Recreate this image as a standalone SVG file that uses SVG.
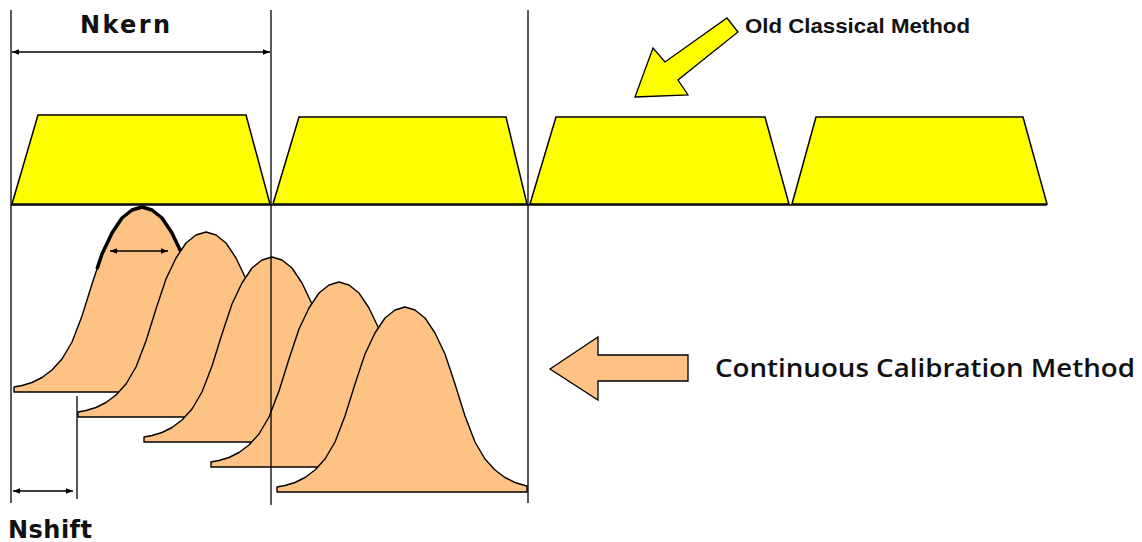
<svg xmlns="http://www.w3.org/2000/svg" width="1142" height="542" viewBox="0 0 1142 542">
<style>
.trap{fill:#FFFF00;stroke:#000;stroke-width:1.5;stroke-linejoin:miter}
.bell{fill:#FFC285;stroke:#000;stroke-width:1.4;stroke-linejoin:round}
.guide{stroke:#000;stroke-width:1.3;fill:none}
.dim{stroke:#000;stroke-width:1.5;fill:none;marker-start:url(#ah);marker-end:url(#ah)}
.lbl{font-family:"DejaVu Sans","Liberation Sans",sans-serif;font-weight:bold;fill:#111}
</style>
<defs>
<marker id="ah" viewBox="0 0 10 10" refX="10" refY="5" markerWidth="7" markerHeight="7" markerUnits="userSpaceOnUse" orient="auto-start-reverse">
<path d="M0,1 L10,5 L0,9 Z" fill="#000"/>
</marker>
<path id="bellshape" d="M-128,185 L-128,180 L-120,178.5 L-110,175.5 L-100,170.5 L-90,163 L-80,152 L-70,135 L-60,109 L-50,77 L-40,47 L-30,26 L-20,11 L-10,3 L0,0 L10,3 L20,11 L30,26 L40,47 L50,77 L60,109 L70,135 L80,152 L90,163 L100,170.5 L110,175.5 L120,178.5 L122,179 L122,185 Z"/>
</defs>

<g id="classical-windows">
<polygon class="trap" points="12,204 38,115 246,115 270,204"/>
<polygon class="trap" points="273,204 299,117 506,117 527,204"/>
<polygon class="trap" points="530,204 556,117 765,117 789,204"/>
<polygon class="trap" points="792,204 816,117 1023,117 1047,204"/>
<line class="guide" x1="11" y1="205" x2="1047" y2="205" stroke-width="1.8"/>
</g>

<g id="continuous-kernels">
<use href="#bellshape" class="bell" transform="translate(142,207)"/>
<path d="M97,269 L102,254 L112,233 L122,218 L132,210 L142,207 L152,210 L162,218 L172,233 L182,254" fill="none" stroke="#000" stroke-width="3.5" stroke-linejoin="round"/>
<use href="#bellshape" class="bell" transform="translate(206,232)"/>
<use href="#bellshape" class="bell" transform="translate(272,257)"/>
<use href="#bellshape" class="bell" transform="translate(339,282)"/>
<use href="#bellshape" class="bell" transform="translate(405,307)"/>
</g>

<g id="connectors">
<line class="guide" x1="11" y1="10" x2="11" y2="503"/>
<line class="guide" x1="271" y1="10" x2="271" y2="505"/>
<line class="guide" x1="528" y1="10" x2="528" y2="503"/>
<line class="guide" x1="77" y1="396" x2="77" y2="499"/>
<line class="dim" x1="12" y1="52" x2="270" y2="52"/>
<line class="dim" x1="110" y1="251" x2="168" y2="251"/>
<line class="dim" x1="13" y1="491" x2="73" y2="491"/>
</g>

<g id="old-classical-arrow">
<polygon points="635,97 688,95 678,80 738,32 727,18 665,62 653,48" fill="#FFFF00" stroke="#000" stroke-width="1.3" stroke-linejoin="miter"/>
</g>

<g id="continuous-arrow">
<polygon points="550,369 598,337 598,355 688,355 688,381 598,381 598,400" fill="#FFC285" stroke="#000" stroke-width="1.3"/>
</g>

<g id="labels">
<text class="lbl" x="80" y="33" font-size="24" textLength="90" lengthAdjust="spacing">Nkern</text>
<text class="lbl" x="8" y="538" font-size="24" textLength="84" lengthAdjust="spacing">Nshift</text>
<text x="745" y="33" font-family="'Liberation Sans',Arial,sans-serif" font-weight="bold" font-size="21" textLength="225" lengthAdjust="spacingAndGlyphs" fill="#111">Old Classical Method</text>
<text x="715" y="377" font-family="'Open Sans','Liberation Sans',sans-serif" font-weight="600" font-size="25" textLength="420" lengthAdjust="spacingAndGlyphs" fill="#111">Continuous Calibration Method</text>
</g>
</svg>
